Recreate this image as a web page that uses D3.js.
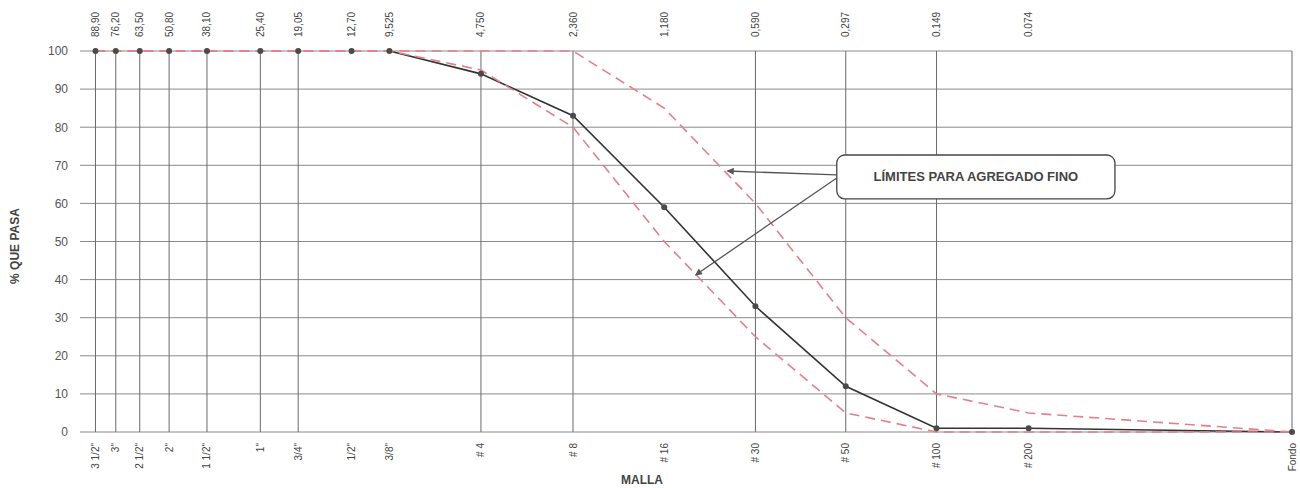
<!DOCTYPE html>
<html>
<head>
<meta charset="utf-8">
<script src="https://cdn.jsdelivr.net/npm/d3@7"></script>
<style>
  html, body { margin: 0; padding: 0; background: #fff; }
  svg { display: block; font-family: "Liberation Sans", Arial, sans-serif; }
</style>
</head>
<body>
<svg id="chart" width="1300" height="488"></svg>
<script>
// ---- data ----
const sizes = [88.9, 76.2, 63.5, 50.8, 38.1, 25.4, 19.05, 12.7, 9.525, 4.75, 2.36, 1.18, 0.59, 0.297, 0.149, 0.074, 0.01];
const sizeLabels = ["88,90","76,20","63,50","50,80","38,10","25,40","19,05","12,70","9,525","4,750","2,360","1,180","0,590","0,297","0.149","0.074",""];
const meshLabels = ['3 1/2"','3"','2 1/2"','2"','1 1/2"','1"','3/4"','1/2"','3/8"','# 4','# 8','# 16','# 30','# 50','# 100','# 200','Fondo'];
const gridSizes = [88.9, 76.2, 63.5, 50.8, 38.1, 25.4, 19.05, 4.75, 2.36, 0.59, 0.297, 0.149, 0.01];
const passing = [100, 100, 100, 100, 100, 100, 100, 100, 100, 94, 83, 59, 33, 12, 1, 1, 0];
const upperLimit = [100, 100, 100, 100, 100, 100, 100, 100, 100, 100, 100, 85, 60, 30, 10, 5, 0];
const lowerLimit = [100, 100, 100, 100, 100, 100, 100, 100, 100, 95, 80, 50, 25, 5, 0, 0, 0];
const yTicks = [0, 10, 20, 30, 40, 50, 60, 70, 80, 90, 100];
const noteText = "LÍMITES PARA AGREGADO FINO";
const noteBox = { s0: 0.318, s1: 0.0384, v0: 72.7, v1: 61.2 };
const noteArrows = [{ s: 0.73, v: 68.5 }, { s: 0.93, v: 41.2 }];

// ---- scales ----
const svg = d3.select("#chart");
const x = d3.scaleLog().domain([100, 0.01]).range([80, 1292]);
const y = d3.scaleLinear().domain([0, 100]).range([432, 51]);

// defs: arrowhead
svg.append("defs").append("marker")
  .attr("id", "arr").attr("viewBox", "0 0 10 10")
  .attr("refX", 9).attr("refY", 5)
  .attr("markerWidth", 9).attr("markerHeight", 7)
  .attr("markerUnits", "userSpaceOnUse")
  .attr("orient", "auto")
  .append("path").attr("d", "M0,0 L10,5 L0,10 Z").attr("fill", "#555");

// horizontal grid
svg.append("g").selectAll("line").data(yTicks).join("line")
  .attr("x1", x(100)).attr("x2", x(0.01))
  .attr("y1", d => y(d)).attr("y2", d => y(d))
  .attr("stroke", "#8a8a8a").attr("stroke-width", 1);

// vertical grid
svg.append("g").selectAll("line").data(gridSizes).join("line")
  .attr("x1", d => x(d)).attr("x2", d => x(d))
  .attr("y1", y(100)).attr("y2", y(0))
  .attr("stroke", "#6a6a6a").attr("stroke-width", 1);

// y axis labels
const yAxis = d3.axisLeft(y).tickValues(yTicks).tickSize(0).tickPadding(12);
const yg = svg.append("g").attr("transform", `translate(${x(100)},0)`).call(yAxis);
yg.select(".domain").remove();
yg.selectAll("text").attr("font-size", 12).attr("fill", "#555")
  .attr("font-family", "Liberation Sans, Arial, sans-serif");

// top labels (sieve sizes)
svg.append("g").selectAll("text").data(sizes).join("text")
  .attr("transform", d => `translate(${x(d) + 3.5},37) rotate(-90)`)
  .attr("text-anchor", "start")
  .attr("font-size", 10).attr("fill", "#444")
  .text((d, i) => sizeLabels[i]);

// bottom labels (mesh)
svg.append("g").selectAll("text").data(sizes).join("text")
  .attr("transform", d => `translate(${x(d) + 3.5},443) rotate(-90)`)
  .attr("text-anchor", "end")
  .attr("font-size", 10).attr("fill", "#444")
  .text((d, i) => meshLabels[i]);

// axis titles
svg.append("text")
  .attr("transform", `translate(19,246) rotate(-90)`)
  .attr("text-anchor", "middle")
  .attr("font-size", 12).attr("font-weight", "bold").attr("fill", "#444")
  .text("% QUE PASA");
svg.append("text")
  .attr("x", 642).attr("y", 484)
  .attr("text-anchor", "middle")
  .attr("font-size", 12).attr("font-weight", "bold").attr("fill", "#444")
  .text("MALLA");

// lines
const line = d3.line().x(d => x(d[0])).y(d => y(d[1]));
const red = "#e3808a";
const pts = sizes.map((s, i) => [s, passing[i]]);
// black curve drawn where the values fall below 100
const curve = pts.filter((d, i) => d[1] < 100 || (i + 1 < pts.length && pts[i + 1][1] < 100));
svg.append("path").datum(curve)
  .attr("d", line).attr("fill", "none")
  .attr("stroke", "#333").attr("stroke-width", 1.6);
svg.append("path").datum(sizes.map((s, i) => [s, upperLimit[i]]))
  .attr("d", line).attr("fill", "none")
  .attr("stroke", red).attr("stroke-width", 1.6).attr("stroke-dasharray", "10,6");
svg.append("path").datum(sizes.map((s, i) => [s, lowerLimit[i]]))
  .attr("d", line).attr("fill", "none")
  .attr("stroke", red).attr("stroke-width", 1.6).attr("stroke-dasharray", "10,6");
svg.append("g").selectAll("circle").data(pts).join("circle")
  .attr("cx", d => x(d[0])).attr("cy", d => y(d[1])).attr("r", 3)
  .attr("fill", "#4a4a4a");

// annotation
const bx0 = x(noteBox.s0), bx1 = x(noteBox.s1), by0 = y(noteBox.v0), by1 = y(noteBox.v1);
noteArrows.forEach((a, i) => {
  svg.append("line")
    .attr("x1", bx0).attr("y1", (by0 + by1) / 2 - 2 + i * 3)
    .attr("x2", x(a.s)).attr("y2", y(a.v))
    .attr("stroke", "#555").attr("stroke-width", 1.3)
    .attr("marker-end", "url(#arr)");
});
svg.append("rect")
  .attr("x", bx0).attr("y", by0).attr("width", bx1 - bx0).attr("height", by1 - by0)
  .attr("rx", 8).attr("ry", 8)
  .attr("fill", "#fff").attr("stroke", "#444").attr("stroke-width", 1.3);
svg.append("text")
  .attr("x", (bx0 + bx1) / 2).attr("y", (by0 + by1) / 2 + 4.5)
  .attr("text-anchor", "middle")
  .attr("font-size", 13).attr("font-weight", "bold").attr("fill", "#444")
  .text(noteText);
</script>
</body>
</html>
